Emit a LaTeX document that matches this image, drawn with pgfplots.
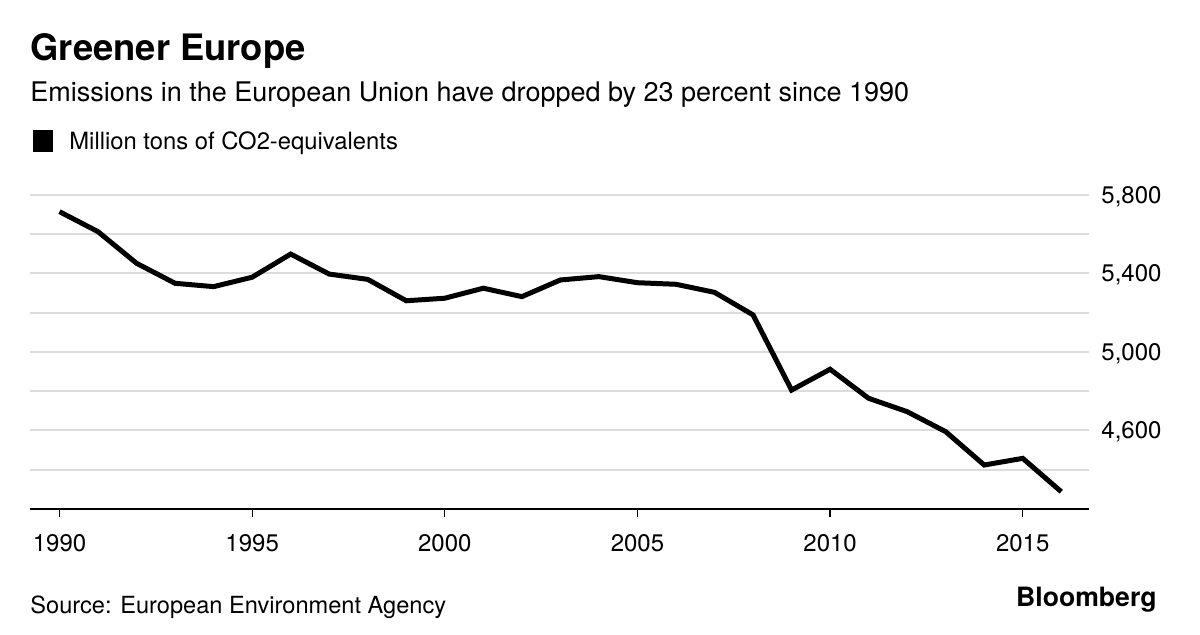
\documentclass[border=0pt]{standalone}
\usepackage{pgfplots}
\pgfplotsset{compat=1.18}
\usepackage{fontspec}
\setmainfont{TeX Gyre Heros}
\definecolor{gridgray}{HTML}{DCDCDC}
\begin{document}
\begin{tikzpicture}[x=1pt,y=1pt]
\useasboundingbox (0,0) rectangle (600,317.5);
\begin{axis}[
  at={(15pt,63pt)}, anchor=south west,
  scale only axis, width=529.5pt, height=157pt,
  xmin=1989.234, xmax=2016.72, ymin=4200, ymax=5800,
  clip=false,
  axis x line*=bottom,
  axis y line*=right,
  x axis line style={-, black, line width=0.75pt},
  y axis line style={draw=none},
  xtick={1990,1995,2000,2005,2010,2015},
  xticklabels={1990,1995,2000,2005,2010,2015},
  xtick align=outside,
  major tick length=4pt,
  xtick style={black, line width=0.6pt},
  xticklabel style={font=\fontsize{12}{12}\selectfont, anchor=north, inner sep=0pt, text depth=0pt, yshift=-8.5pt},
  ytick={4400,4600,4800,5000,5200,5400,5600,5800},
  yticklabels={{},{4,600},{},{5,000},{},{5,400},{},{5,800}},
  ytick style={draw=none},
  yticklabel style={font=\fontsize{12}{12}\selectfont, anchor=west, inner sep=0pt, text depth=0pt, xshift=6pt},
  ymajorgrids,
  grid style={gridgray, line width=1pt},
]
\addplot[black, line width=2.5pt, mark=none] coordinates {
(1990,5715) (1991,5613) (1992,5452) (1993,5350) (1994,5333)
(1995,5381) (1996,5499) (1997,5397) (1998,5370) (1999,5261)
(2000,5274) (2001,5325) (2002,5282) (2003,5367) (2004,5384)
(2005,5353) (2006,5345) (2007,5304) (2008,5189) (2009,4806)
(2010,4912) (2011,4764) (2012,4696) (2013,4594) (2014,4424)
(2015,4458) (2016,4288)
};
\end{axis}
\node[anchor=base west, inner sep=0pt, font=\fontsize{18.2}{18.2}\selectfont\bfseries] at (15,287.2) {Greener Europe};
\node[anchor=base west, inner sep=0pt, font=\fontsize{13.5}{13.5}\selectfont] at (15,266.7) {Emissions in the European Union have dropped by 23 percent since 1990};
\fill[black] (16.3,241.7) rectangle (26.7,252.5);
\node[anchor=base west, inner sep=0pt, font=\fontsize{11.9}{11.9}\selectfont] at (34.5,242.5) {Million tons of CO2-equivalents};
\node[anchor=base west, inner sep=0pt, font=\fontsize{11.8}{11.8}\selectfont] at (15,10.5) {Source: European Environment Agency};
\node[anchor=base east, inner sep=0pt, font=\fontsize{13.3}{13.3}\selectfont\bfseries] at (578.5,14) {Bloomberg};
\end{tikzpicture}
\end{document}
